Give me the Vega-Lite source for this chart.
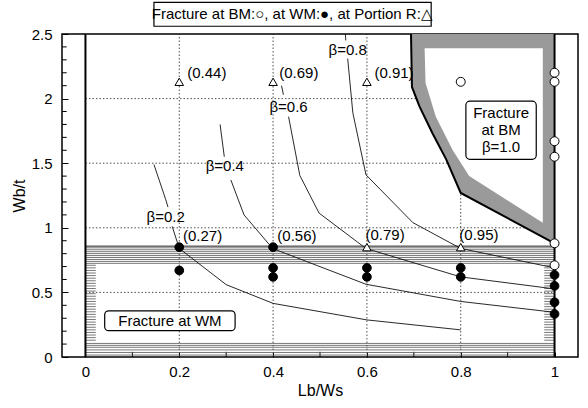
{
  "$schema": "https://vega.github.io/schema/vega-lite/v6.json",
  "width": 516,
  "height": 323,
  "autosize": "none",
  "padding": {"left": 62, "top": 34, "right": 10, "bottom": 51},
  "background": "white",
  "config": {
    "font": "Liberation Sans",
    "view": {"stroke": "black", "strokeWidth": 1.5},
    "axis": {"domain": false, "grid": false, "labelOverlap": false, "labelFlush": false, "labelFont": "Liberation Sans", "labelFontSize": 15, "labelColor": "black", "titleFont": "Liberation Sans", "titleFontSize": 16, "titleFontWeight": "normal", "titleColor": "black", "tickColor": "black", "tickWidth": 1}
  },
  "datasets": {
    "vgrid": [{"x": 0.2}, {"x": 0.4}, {"x": 0.6}, {"x": 0.8}],
    "hgrid": [{"y": 0.5}, {"y": 1}, {"y": 1.5}, {"y": 2}],
    "xminor": [{"x": 0.1}, {"x": 0.3}, {"x": 0.5}, {"x": 0.7}, {"x": 0.9}],
    "yminor": [{"y": 0.1}, {"y": 0.2}, {"y": 0.3}, {"y": 0.4}, {"y": 0.6}, {"y": 0.7}, {"y": 0.8}, {"y": 0.9}, {"y": 1.1}, {"y": 1.2}, {"y": 1.3}, {"y": 1.4}, {"y": 1.6}, {"y": 1.7}, {"y": 1.8}, {"y": 1.9}, {"y": 2.1}, {"y": 2.2}, {"y": 2.3}, {"y": 2.4}],
    "hlines": [{"y": 0.015}, {"y": 0.035}, {"y": 0.055}, {"y": 0.075}, {"y": 0.09}, {"y": 0.105}, {"y": 0.725}, {"y": 0.74}, {"y": 0.755}, {"y": 0.77}, {"y": 0.785}, {"y": 0.8}, {"y": 0.815}, {"y": 0.83}, {"y": 0.845}, {"y": 0.855}, {"y": 0.86}],
    "edgelines": [{"y": 0.13}, {"y": 0.15}, {"y": 0.17}, {"y": 0.19}, {"y": 0.21}, {"y": 0.23}, {"y": 0.25}, {"y": 0.27}, {"y": 0.29}, {"y": 0.31}, {"y": 0.33}, {"y": 0.35}, {"y": 0.37}, {"y": 0.39}, {"y": 0.41}, {"y": 0.43}, {"y": 0.45}, {"y": 0.47}, {"y": 0.49}, {"y": 0.51}, {"y": 0.53}, {"y": 0.55}, {"y": 0.57}, {"y": 0.59}, {"y": 0.61}, {"y": 0.63}, {"y": 0.65}, {"y": 0.67}, {"y": 0.69}, {"y": 0.71}],
    "bmOuter": [{"y": 0.88, "xl": 1.0}, {"y": 1.27, "xl": 0.8}, {"y": 1.53, "xl": 0.769}, {"y": 1.73, "xl": 0.74}, {"y": 1.94, "xl": 0.712}, {"y": 2.09, "xl": 0.696}, {"y": 2.5, "xl": 0.694}],
    "bmInner": [{"y": 1.04, "xl": 0.975}, {"y": 1.4, "xl": 0.818}, {"y": 1.6, "xl": 0.783}, {"y": 1.86, "xl": 0.747}, {"y": 2.12, "xl": 0.725}, {"y": 2.39, "xl": 0.723}],
    "frameLines": [{"x": 0}, {"x": 1}],
    "curves": [
      {"seg": "b2a", "o": 1, "x": 0.146, "y": 1.49}, {"seg": "b2a", "o": 2, "x": 0.171, "y": 1.22}, {"seg": "b2a", "o": 3, "x": 0.176, "y": 1.16},
      {"seg": "b2b", "o": 1, "x": 0.185, "y": 1.01}, {"seg": "b2b", "o": 2, "x": 0.2, "y": 0.84}, {"seg": "b2b", "o": 3, "x": 0.3, "y": 0.56}, {"seg": "b2b", "o": 4, "x": 0.4, "y": 0.415}, {"seg": "b2b", "o": 5, "x": 0.6, "y": 0.287}, {"seg": "b2b", "o": 6, "x": 0.8, "y": 0.21},
      {"seg": "b4a", "o": 1, "x": 0.287, "y": 1.8}, {"seg": "b4a", "o": 2, "x": 0.296, "y": 1.55},
      {"seg": "b4b", "o": 1, "x": 0.31, "y": 1.37}, {"seg": "b4b", "o": 2, "x": 0.338, "y": 1.1}, {"seg": "b4b", "o": 3, "x": 0.399, "y": 0.84}, {"seg": "b4b", "o": 4, "x": 0.598, "y": 0.563}, {"seg": "b4b", "o": 5, "x": 0.8, "y": 0.43}, {"seg": "b4b", "o": 6, "x": 1.0, "y": 0.346},
      {"seg": "b6a", "o": 1, "x": 0.418, "y": 2.1}, {"seg": "b6a", "o": 2, "x": 0.422, "y": 2.03},
      {"seg": "b6b", "o": 1, "x": 0.433, "y": 1.86}, {"seg": "b6b", "o": 2, "x": 0.457, "y": 1.405}, {"seg": "b6b", "o": 3, "x": 0.498, "y": 1.114}, {"seg": "b6b", "o": 4, "x": 0.598, "y": 0.84}, {"seg": "b6b", "o": 5, "x": 0.8, "y": 0.62}, {"seg": "b6b", "o": 6, "x": 1.0, "y": 0.527},
      {"seg": "b8a", "o": 1, "x": 0.554, "y": 2.5}, {"seg": "b8a", "o": 2, "x": 0.555, "y": 2.45},
      {"seg": "b8b", "o": 1, "x": 0.559, "y": 2.31}, {"seg": "b8b", "o": 2, "x": 0.57, "y": 1.89}, {"seg": "b8b", "o": 3, "x": 0.598, "y": 1.41}, {"seg": "b8b", "o": 4, "x": 0.698, "y": 1.04}, {"seg": "b8b", "o": 5, "x": 0.8, "y": 0.84}, {"seg": "b8b", "o": 6, "x": 1.0, "y": 0.69}
    ],
    "curveLabels": [
      {"x": 0.171, "y": 1.08, "t": "β=0.2"}, {"x": 0.297, "y": 1.48, "t": "β=0.4"}, {"x": 0.433, "y": 1.935, "t": "β=0.6"}, {"x": 0.559, "y": 2.38, "t": "β=0.8"}
    ],
    "valLabels": [
      {"x": 0.217, "y": 2.2, "t": "(0.44)"}, {"x": 0.413, "y": 2.2, "t": "(0.69)"}, {"x": 0.616, "y": 2.2, "t": "(0.91)"},
      {"x": 0.208, "y": 0.935, "t": "(0.27)"}, {"x": 0.409, "y": 0.935, "t": "(0.56)"}, {"x": 0.597, "y": 0.945, "t": "(0.79)"}, {"x": 0.797, "y": 0.945, "t": "(0.95)"}
    ],
    "roundBoxes": [
      {"x1": 0.041, "x2": 0.319, "y1": 0.204, "y2": 0.357},
      {"x1": 0.811, "x2": 0.961, "y1": 1.53, "y2": 1.98}
    ],
    "legendBox": [{"x1": 0.146, "x2": 0.737, "y1": 2.56, "y2": 2.745}],
    "boxTexts": [
      {"x": 0.18, "y": 0.28, "t": "Fracture at WM"},
      {"x": 0.886, "y": 1.889, "t": "Fracture"},
      {"x": 0.886, "y": 1.76, "t": "at BM"},
      {"x": 0.886, "y": 1.626, "t": "β=1.0"},
      {"x": 0.441, "y": 2.652, "t": "Fracture at BM:○, at WM:●, at Portion R:△"}
    ],
    "points": [
      {"x": 0.2, "y": 2.13, "kind": "R"}, {"x": 0.4, "y": 2.13, "kind": "R"}, {"x": 0.6, "y": 2.13, "kind": "R"}, {"x": 0.6, "y": 0.85, "kind": "R"}, {"x": 0.8, "y": 0.85, "kind": "R"},
      {"x": 0.8, "y": 2.13, "kind": "BM"}, {"x": 1, "y": 2.2, "kind": "BM"}, {"x": 1, "y": 2.13, "kind": "BM"}, {"x": 1, "y": 1.67, "kind": "BM"}, {"x": 1, "y": 1.55, "kind": "BM"}, {"x": 1, "y": 0.88, "kind": "BM"}, {"x": 1, "y": 0.71, "kind": "BM"},
      {"x": 0.2, "y": 0.85, "kind": "WM"}, {"x": 0.2, "y": 0.67, "kind": "WM"}, {"x": 0.4, "y": 0.85, "kind": "WM"}, {"x": 0.4, "y": 0.69, "kind": "WM"}, {"x": 0.4, "y": 0.62, "kind": "WM"}, {"x": 0.6, "y": 0.69, "kind": "WM"}, {"x": 0.6, "y": 0.62, "kind": "WM"}, {"x": 0.8, "y": 0.69, "kind": "WM"}, {"x": 0.8, "y": 0.62, "kind": "WM"}, {"x": 1, "y": 0.635, "kind": "WM"}, {"x": 1, "y": 0.55, "kind": "WM"}, {"x": 1, "y": 0.424, "kind": "WM"}, {"x": 1, "y": 0.333, "kind": "WM"}
    ]
  },
  "layer": [
    {
      "data": {"name": "vgrid"},
      "mark": {"type": "rule", "strokeDash": [1.5, 2], "stroke": "#222", "strokeWidth": 0.8},
      "encoding": {
        "x": {"field": "x", "type": "quantitative", "scale": {"domain": [-0.05, 1.05], "nice": false, "zero": false},
          "axis": {"title": "Lb/Ws", "values": [0, 0.2, 0.4, 0.6, 0.8, 1], "format": "~g", "tickSize": -5, "labelPadding": 12, "titlePadding": 3}},
        "y": {"datum": 0, "type": "quantitative"},
        "y2": {"datum": 2.5}
      }
    },
    {
      "data": {"name": "hgrid"},
      "mark": {"type": "rule", "strokeDash": [1.5, 2], "stroke": "#222", "strokeWidth": 0.8},
      "encoding": {
        "y": {"field": "y", "type": "quantitative", "scale": {"domain": [0, 2.5], "nice": false, "zero": false},
          "axis": {"title": "Wb/t", "values": [0, 0.5, 1, 1.5, 2, 2.5], "format": "~g", "tickSize": -6, "labelPadding": 16, "titlePadding": 4}},
        "x": {"datum": 0, "type": "quantitative"},
        "x2": {"datum": 1}
      }
    },
    {
      "data": {"name": "xminor"},
      "mark": {"type": "rule", "stroke": "black", "strokeWidth": 1},
      "encoding": {
        "x": {"field": "x", "type": "quantitative"},
        "y": {"datum": 0, "type": "quantitative"},
        "y2": {"datum": 0.04}
      }
    },
    {
      "data": {"name": "yminor"},
      "mark": {"type": "rule", "stroke": "black", "strokeWidth": 1},
      "encoding": {
        "y": {"field": "y", "type": "quantitative"},
        "x": {"datum": -0.05, "type": "quantitative"},
        "x2": {"datum": -0.04}
      }
    },
    {
      "data": {"name": "hlines"},
      "mark": {"type": "rule", "stroke": "#555", "strokeWidth": 0.8},
      "encoding": {
        "y": {"field": "y", "type": "quantitative"},
        "x": {"datum": 0, "type": "quantitative"},
        "x2": {"datum": 1}
      }
    },
    {
      "data": {"name": "edgelines"},
      "mark": {"type": "rule", "stroke": "#555", "strokeWidth": 0.8},
      "encoding": {
        "y": {"field": "y", "type": "quantitative"},
        "x": {"datum": 0, "type": "quantitative"},
        "x2": {"datum": 0.022}
      }
    },
    {
      "data": {"name": "edgelines"},
      "mark": {"type": "rule", "stroke": "#555", "strokeWidth": 0.8},
      "encoding": {
        "y": {"field": "y", "type": "quantitative"},
        "x": {"datum": 0.978, "type": "quantitative"},
        "x2": {"datum": 1}
      }
    },
    {
      "data": {"name": "bmOuter"},
      "mark": {"type": "area", "orient": "horizontal", "fill": "#9a9a9a"},
      "encoding": {
        "y": {"field": "y", "type": "quantitative"},
        "x": {"field": "xl", "type": "quantitative", "stack": null},
        "x2": {"datum": 1}
      }
    },
    {
      "data": {"name": "bmInner"},
      "mark": {"type": "area", "orient": "horizontal", "fill": "white"},
      "encoding": {
        "y": {"field": "y", "type": "quantitative"},
        "x": {"field": "xl", "type": "quantitative", "stack": null},
        "x2": {"datum": 0.975}
      }
    },
    {
      "data": {"name": "bmOuter"},
      "mark": {"type": "line", "stroke": "black", "strokeWidth": 2},
      "encoding": {
        "y": {"field": "y", "type": "quantitative"},
        "x": {"field": "xl", "type": "quantitative"},
        "order": {"field": "y"}
      }
    },
    {
      "data": {"name": "frameLines"},
      "mark": {"type": "rule", "stroke": "black", "strokeWidth": 2},
      "encoding": {
        "x": {"field": "x", "type": "quantitative"},
        "y": {"datum": 0, "type": "quantitative"},
        "y2": {"datum": 2.5}
      }
    },
    {
      "data": {"name": "curves"},
      "mark": {"type": "line", "stroke": "#111", "strokeWidth": 0.9},
      "encoding": {
        "x": {"field": "x", "type": "quantitative"},
        "y": {"field": "y", "type": "quantitative"},
        "detail": {"field": "seg"},
        "order": {"field": "o"}
      }
    },
    {
      "data": {"name": "curveLabels"},
      "mark": {"type": "text", "fontSize": 15, "align": "center", "baseline": "middle", "color": "black"},
      "encoding": {
        "x": {"field": "x", "type": "quantitative"},
        "y": {"field": "y", "type": "quantitative"},
        "text": {"field": "t"}
      }
    },
    {
      "data": {"name": "valLabels"},
      "mark": {"type": "text", "fontSize": 15, "align": "left", "baseline": "middle", "color": "black"},
      "encoding": {
        "x": {"field": "x", "type": "quantitative"},
        "y": {"field": "y", "type": "quantitative"},
        "text": {"field": "t"}
      }
    },
    {
      "data": {"name": "roundBoxes"},
      "mark": {"type": "rect", "fill": "white", "stroke": "black", "strokeWidth": 1.2, "cornerRadius": 4},
      "encoding": {
        "x": {"field": "x1", "type": "quantitative"},
        "x2": {"field": "x2"},
        "y": {"field": "y1", "type": "quantitative"},
        "y2": {"field": "y2"}
      }
    },
    {
      "data": {"name": "legendBox"},
      "mark": {"type": "rect", "fill": "white", "stroke": "black", "strokeWidth": 1.2},
      "encoding": {
        "x": {"field": "x1", "type": "quantitative"},
        "x2": {"field": "x2"},
        "y": {"field": "y1", "type": "quantitative"},
        "y2": {"field": "y2"}
      }
    },
    {
      "data": {"name": "boxTexts"},
      "mark": {"type": "text", "fontSize": 15, "align": "center", "baseline": "middle", "color": "black"},
      "encoding": {
        "x": {"field": "x", "type": "quantitative"},
        "y": {"field": "y", "type": "quantitative"},
        "text": {"field": "t"}
      }
    },
    {
      "data": {"name": "points"},
      "mark": {"type": "point", "filled": true, "stroke": "black", "strokeWidth": 1, "opacity": 1},
      "encoding": {
        "x": {"field": "x", "type": "quantitative"},
        "y": {"field": "y", "type": "quantitative"},
        "shape": {"field": "kind", "type": "nominal", "scale": {"domain": ["BM", "WM", "R"], "range": ["circle", "circle", "triangle-up"]}, "legend": null},
        "fill": {"field": "kind", "type": "nominal", "scale": {"domain": ["BM", "WM", "R"], "range": ["white", "black", "white"]}, "legend": null},
        "size": {"field": "kind", "type": "nominal", "scale": {"domain": ["BM", "WM", "R"], "range": [80, 72, 110]}, "legend": null}
      }
    }
  ]
}
